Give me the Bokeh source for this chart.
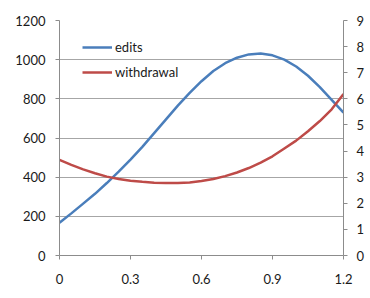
from bokeh.plotting import figure
from bokeh.models import Range1d, LinearAxis, FixedTicker, Legend, LegendItem
from bokeh.embed import file_html
from bokeh.resources import INLINE

# data
x_vals = [0.0, 0.05, 0.1, 0.15, 0.2, 0.25, 0.3, 0.35, 0.4, 0.45, 0.5, 0.55, 0.6,
          0.65, 0.7, 0.75, 0.8, 0.85, 0.9, 0.95, 1.0, 1.05, 1.1, 1.15, 1.2]
edits = [167, 215, 265, 315, 370, 428, 490, 555, 625, 695, 765, 830, 890,
         942, 982, 1010, 1027, 1031, 1022, 1000, 965, 918, 860, 795, 730]
withdrawal = [3.66, 3.47, 3.3, 3.15, 3.02, 2.93, 2.86, 2.82, 2.79, 2.78, 2.78, 2.8, 2.85,
              2.93, 3.04, 3.18, 3.35, 3.56, 3.8, 4.1, 4.4, 4.76, 5.15, 5.6, 6.18]

x_ticks = [0, 0.3, 0.6, 0.9, 1.2]
x_tick_labels = ["0", "0.3", "0.6", "0.9", "1.2"]
left_ticks = [0, 200, 400, 600, 800, 1000, 1200]
right_ticks = [0, 1, 2, 3, 4, 5, 6, 7, 8, 9]

FONT = "Lato"
TXT = "#1a1a1a"
AXC = "#8c8c8c"

p = figure(width=364, height=290, output_backend="svg", toolbar_location=None,
           x_range=Range1d(0, 1.2), y_range=Range1d(0, 1200),
           min_border_left=59, min_border_right=21, min_border_top=20, min_border_bottom=35)
p.frame_width = 284
p.frame_height = 235
p.outline_line_color = None
p.background_fill_color = "white"
p.border_fill_color = "white"
p.extra_y_ranges = {"right": Range1d(0, 9)}

# axes
xa = p.xaxis[0]
xa.ticker = FixedTicker(ticks=x_ticks)
xa.major_label_overrides = {t: l for t, l in zip(x_ticks, x_tick_labels)}
ya = p.yaxis[0]
ya.ticker = FixedTicker(ticks=left_ticks)
ra = LinearAxis(y_range_name="right", ticker=FixedTicker(ticks=right_ticks))
p.add_layout(ra, "right")

for ax in (xa, ya, ra):
    ax.axis_line_color = AXC
    ax.major_tick_line_color = AXC
    ax.major_tick_out = 4
    ax.major_tick_in = 0
    ax.minor_tick_line_color = None
    ax.major_label_text_font = FONT
    ax.major_label_text_font_size = "13px"
    ax.major_label_text_color = TXT
xa.major_label_standoff = 14
ya.major_label_standoff = 10
ra.major_label_standoff = 9

p.xgrid.grid_line_color = None
p.ygrid.grid_line_color = "#a6a6a6"
p.ygrid.grid_line_width = 1
p.ygrid.ticker = FixedTicker(ticks=left_ticks)

r1 = p.line(x_vals, edits, line_color="#4A7EBB", line_width=2.5)
r2 = p.line(x_vals, withdrawal, line_color="#BE4B48", line_width=2.5, y_range_name="right")

legend = Legend(items=[LegendItem(label="edits", renderers=[r1]),
                       LegendItem(label="withdrawal", renderers=[r2])],
                location=(23, 173))
legend.margin = 0
legend.padding = 0
legend.spacing = 5
legend.glyph_width = 30
legend.glyph_height = 20
legend.label_height = 20
legend.label_standoff = 3
legend.border_line_color = None
legend.background_fill_alpha = 0
legend.label_text_font = FONT
legend.label_text_font_size = "13px"
legend.label_text_color = TXT
p.add_layout(legend, "center")

open("out.html", "w").write(file_html(p, INLINE))
